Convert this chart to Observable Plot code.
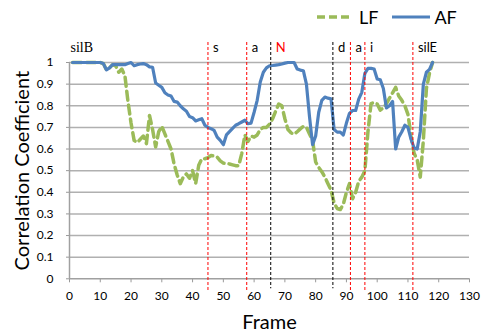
<!DOCTYPE html>
<html>
<head>
<meta charset="utf-8">
<script src="https://cdn.jsdelivr.net/npm/d3@7"></script>
<script src="https://cdn.jsdelivr.net/npm/@observablehq/plot@0.6"></script>
<style>
  body { margin: 0; background: #fff; }
  #wrap { position: relative; width: 481px; height: 333px; font-family: Lato, "Open Sans", sans-serif; }
  #legend { position: absolute; top: 6px; left: 317px; display: flex; align-items: center; font-size: 18px; color: #000; }
  #legend .item { display: flex; align-items: center; }
  #legend svg { display: block; }
  #wrap > svg { position: absolute; left: 0; top: 0; }
</style>
</head>
<body>
<div id="wrap"><div id="legend"></div></div>
<script>
// ---- data ----
const frames = d3.range(1, 119);
const afValues = [
  1.0, 1.0, 1.0, 1.0, 1.0, 1.0, 1.0, 1.0, 1.0, 1.0,
  0.995, 0.966, 0.975, 0.99, 0.99, 0.99, 0.99, 0.99, 0.995, 1.0,
  0.985, 0.99, 0.993, 0.995, 0.99, 0.98, 0.978, 0.905, 0.895, 0.885,
  0.86, 0.85, 0.845, 0.82, 0.817, 0.80, 0.786, 0.775, 0.75, 0.745,
  0.73, 0.735, 0.74, 0.71, 0.70, 0.694, 0.686, 0.655, 0.64, 0.62,
  0.665, 0.68, 0.695, 0.71, 0.717, 0.725, 0.733, 0.717, 0.72, 0.77,
  0.825, 0.91, 0.955, 0.975, 0.985, 0.986, 0.988, 0.99, 0.993, 0.997,
  1.0, 1.0, 1.0, 0.97, 0.965, 0.962, 0.90, 0.75, 0.62, 0.66,
  0.77, 0.825, 0.84, 0.835, 0.832, 0.69, 0.678, 0.678, 0.665, 0.72,
  0.765, 0.778, 0.778, 0.831, 0.862, 0.95, 0.973, 0.973, 0.97, 0.924,
  0.92, 0.88, 0.79, 0.80, 0.82, 0.60, 0.655, 0.68, 0.71, 0.70,
  0.645, 0.605, 0.60, 0.68, 0.90, 0.955, 0.968, 1.0
];
const lfValues = [
  1.0, 1.0, 1.0, 1.0, 1.0, 1.0, 1.0, 1.0, 1.0, 1.0,
  0.995, 0.966, 0.975, 0.99, 0.985, 0.955, 0.97, 0.94, 0.82, 0.72,
  0.64, 0.63, 0.645, 0.66, 0.625, 0.755, 0.69, 0.61, 0.68, 0.705,
  0.67, 0.635, 0.60, 0.53, 0.48, 0.44, 0.47, 0.485, 0.465, 0.50,
  0.44, 0.525, 0.555, 0.555, 0.56, 0.57, 0.568, 0.562, 0.545, 0.535,
  0.533, 0.531, 0.527, 0.523, 0.523, 0.58, 0.665, 0.635, 0.66, 0.655,
  0.665, 0.69, 0.70, 0.70, 0.715, 0.74, 0.775, 0.808, 0.80, 0.74,
  0.69, 0.675, 0.668, 0.68, 0.693, 0.705, 0.70, 0.67, 0.64, 0.54,
  0.515, 0.495, 0.47, 0.44, 0.41, 0.35, 0.325, 0.32, 0.345, 0.40,
  0.44, 0.37, 0.40, 0.45, 0.47, 0.50, 0.68, 0.81, 0.815, 0.808,
  0.78, 0.79, 0.81, 0.835, 0.86, 0.885, 0.845, 0.825, 0.80, 0.76,
  0.66, 0.58, 0.55, 0.47, 0.64, 0.88, 0.95, 1.0
];
const segLabels = ["silB", "s", "a", "N", "d", "a", "i", "silE"];
const segStarts = [0, 45, 57.6, 65.4, 85.6, 91.3, 96, 111.6];
const xTicks = d3.range(0, 131, 10);
const yTicks = d3.range(0, 11).map(i => i / 10);
const seriesNames = ["LF", "AF"];

// ---- build ----
const rows = frames.map((f, i) => ({frame: f, lf: lfValues[i], af: afValues[i]}));
const segs = segLabels.map((label, i) => ({label, frame: segStarts[i]}));
const boundaries = segs.slice(1);
const darkKinds = new Set(["N", "d"]);
const redBounds = boundaries.filter(d => !darkKinds.has(d.label));
const blackBounds = boundaries.filter(d => darkKinds.has(d.label));

const GREEN = "#9bbb59", BLUE = "#4f81bd";

const chart = Plot.plot({
  width: 481,
  height: 333,
  marginLeft: 69,
  marginRight: 12,
  marginTop: 62,
  marginBottom: 54.7,
  style: {fontFamily: "Lato, 'Open Sans', sans-serif", fontSize: "12px", color: "#000", background: "transparent", overflow: "visible"},
  x: {domain: [0, 130]},
  y: {domain: [0, 1]},
  marks: [
    Plot.ruleY(yTicks.filter(d => d > 0), {stroke: "#b0b0b0", strokeWidth: 1.5}),
    Plot.axisX({ticks: xTicks, tickSize: 4, tickPadding: 9, label: null, stroke: "#999", fontSize: 12}),
    Plot.axisY({ticks: yTicks, tickSize: 3, tickPadding: 13, tickFormat: d => String(+d.toFixed(1)), label: null, stroke: "#999", fontSize: 12}),
    Plot.ruleY([0], {stroke: "#a0a0a0", strokeWidth: 1.5}),
    Plot.ruleX([0], {stroke: "#a0a0a0", strokeWidth: 1.5}),
    Plot.line(rows, {x: "frame", y: "lf", stroke: GREEN, strokeWidth: 3.5, strokeDasharray: "9,5"}),
    Plot.line(rows, {x: "frame", y: "af", stroke: BLUE, strokeWidth: 3.2}),
    Plot.ruleX(redBounds, {x: "frame", stroke: "#ff0000", strokeWidth: 1, strokeDasharray: "3,2", insetTop: -20, insetBottom: -12}),
    Plot.ruleX(blackBounds, {x: "frame", stroke: "#000", strokeWidth: 1, strokeDasharray: "3,2", insetTop: -20, insetBottom: -10}),
    Plot.text(segs.filter(d => d.label === "silB"), {x: "frame", text: "label", frameAnchor: "top", lineAnchor: "middle", dy: -15, dx: 1, textAnchor: "start", fontSize: 14, fontFamily: "'Liberation Serif', serif", fill: "#000"}),
    Plot.text(segs.filter(d => d.label !== "silB"), {x: "frame", text: "label", frameAnchor: "top", lineAnchor: "middle", dy: -15, dx: 5, textAnchor: "start", fontSize: 13, fill: d => d.label === "N" ? "#ff0000" : "#000"}),
    Plot.text(["Frame"], {frameAnchor: "bottom", lineAnchor: "middle", textAnchor: "middle", dy: 44, fontSize: 20, fill: "#000"}),
    Plot.text(["Correlation Coefficient"], {frameAnchor: "left", lineAnchor: "middle", textAnchor: "middle", dx: -47, rotate: -90, fontSize: 20, fill: "#000"})
  ]
});
document.getElementById("wrap").appendChild(chart);

// ---- legend ----
const legend = document.getElementById("legend");
const legendSpecs = [
  {name: seriesNames[0], color: GREEN, dash: "8,4", w: 3.5, lw: 34, gap: 8, after: 14},
  {name: seriesNames[1], color: BLUE, dash: null, w: 3.2, lw: 38, gap: 4, after: 0}
];
for (const s of legendSpecs) {
  const item = document.createElement("div");
  item.className = "item";
  item.style.marginRight = s.after + "px";
  const ns = "http://www.w3.org/2000/svg";
  const svg = document.createElementNS(ns, "svg");
  svg.setAttribute("width", s.lw);
  svg.setAttribute("height", 10);
  const ln = document.createElementNS(ns, "line");
  ln.setAttribute("x1", 0); ln.setAttribute("x2", s.lw);
  ln.setAttribute("y1", 5); ln.setAttribute("y2", 5);
  ln.setAttribute("stroke", s.color);
  ln.setAttribute("stroke-width", s.w);
  if (s.dash) ln.setAttribute("stroke-dasharray", s.dash);
  svg.appendChild(ln);
  const label = document.createElement("span");
  label.textContent = s.name;
  label.style.marginLeft = s.gap + "px";
  item.appendChild(svg);
  item.appendChild(label);
  legend.appendChild(item);
}
</script>
</body>
</html>
